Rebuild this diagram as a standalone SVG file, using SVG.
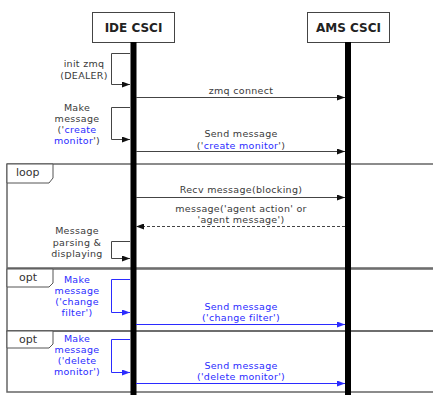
<svg xmlns="http://www.w3.org/2000/svg" width="433" height="395" viewBox="0 0 433 395">
  <style>
    text { font-family: "DejaVu Sans", "Noto Sans", sans-serif; font-size: 9.5px; letter-spacing: 0.3px; fill: #3a3a3a; }
    .hdr { font-size: 12px; font-weight: bold; letter-spacing: 0; fill: #222; text-anchor: middle; }
    .tabtxt { font-size: 11px; letter-spacing: 0; fill: #333; }
    .lbl { text-anchor: middle; }
    .blue { fill: #2b2bff; }
    .head { fill: #fff; stroke: #444; stroke-width: 1; }
    .life { stroke: #000; stroke-width: 6; }
    .frame { fill: none; stroke: #666; stroke-width: 1.5; }
    .tab { fill: #fff; stroke: #555; stroke-width: 1; }
    .msg { fill: none; stroke: #444; stroke-width: 1; }
    .msgb { fill: none; stroke: #2b2bff; stroke-width: 1; }
    .dash { stroke-dasharray: 3 2; }
  </style>
  <defs>
    <marker id="arr" viewBox="0 0 8 6" refX="8" refY="3" markerWidth="8" markerHeight="6" markerUnits="userSpaceOnUse" orient="auto">
      <path d="M0,0 L8,3 L0,6 Z" fill="#111"/>
    </marker>
    <marker id="arrb" viewBox="0 0 8 6" refX="8" refY="3" markerWidth="8" markerHeight="6" markerUnits="userSpaceOnUse" orient="auto">
      <path d="M0,0 L8,3 L0,6 Z" fill="#2b2bff"/>
    </marker>
  </defs>

  <rect width="433" height="395" fill="#fff"/>

  <!-- combined fragments -->
  <g id="frame-loop">
    <path class="frame" d="M433,164 H7 V268 H433"/>
    <path class="tab" d="M7,164 H53 V178 L49,183 H7 Z"/>
    <text class="tabtxt" x="16" y="176">loop</text>
  </g>
  <g id="frame-opt-1">
    <path class="frame" d="M433,269 H7 V331 H433"/>
    <path class="tab" d="M7,269 H53 V283 L49,287 H7 Z"/>
    <text class="tabtxt" x="19" y="281">opt</text>
  </g>
  <g id="frame-opt-2">
    <path class="frame" d="M433,331 H7 V392 H433"/>
    <path class="tab" d="M7,331 H53 V344 L49,348 H7 Z"/>
    <text class="tabtxt" x="19" y="343">opt</text>
  </g>

  <!-- lifelines -->
  <g id="ide-csci">
    <rect class="head" x="92.5" y="12.5" width="82" height="30"/>
    <text class="hdr" x="133.5" y="32">IDE CSCI</text>
    <line class="life" x1="133.5" y1="42" x2="133.5" y2="395"/>
  </g>
  <g id="ams-csci">
    <rect class="head" x="307.5" y="12.5" width="82" height="30"/>
    <text class="hdr" x="348.5" y="32">AMS CSCI</text>
    <line class="life" x1="348" y1="42" x2="348" y2="395"/>
  </g>

  <!-- messages -->
  <g id="connectors">
    <!-- init zmq self call -->
    <path class="msg" d="M130,53.5 H111.5 V84.5 H130" marker-end="url(#arr)"/>
    <text class="lbl" x="84" y="67">init zmq</text>
    <text class="lbl" x="84" y="79">(DEALER)</text>

    <line class="msg" x1="136" y1="97.5" x2="345" y2="97.5" marker-end="url(#arr)"/>
    <text class="lbl" x="241" y="94">zmq connect</text>

    <!-- make message self call -->
    <path class="msg" d="M130,107.5 H111.5 V139.5 H130" marker-end="url(#arr)"/>
    <text class="lbl" x="77" y="111">Make</text>
    <text class="lbl" x="77" y="122">message</text>
    <text class="lbl" x="77" y="133"><tspan>('</tspan><tspan class="blue">create</tspan></text>
    <text class="lbl" x="77" y="144"><tspan class="blue">monitor</tspan><tspan>')</tspan></text>

    <line class="msg" x1="136" y1="151.5" x2="345" y2="151.5" marker-end="url(#arr)"/>
    <text class="lbl" x="241" y="137">Send message</text>
    <text class="lbl" x="241" y="149"><tspan>('</tspan><tspan class="blue">create monitor</tspan><tspan>')</tspan></text>

    <!-- loop body -->
    <line class="msg" x1="136" y1="197.5" x2="345" y2="197.5" marker-end="url(#arr)"/>
    <text class="lbl" x="241" y="193">Recv message(blocking)</text>

    <line class="msg dash" x1="345" y1="226.5" x2="136" y2="226.5" marker-end="url(#arr)"/>
    <text class="lbl" x="241" y="212">message('agent action' or</text>
    <text class="lbl" x="241" y="223">'agent message')</text>

    <path class="msg" d="M130,241.5 H111.5 V258.5 H130" marker-end="url(#arr)"/>
    <text class="lbl" x="77" y="234">Message</text>
    <text class="lbl" x="77" y="246">parsing &amp;</text>
    <text class="lbl" x="77" y="257">displaying</text>

    <!-- opt: change filter -->
    <path class="msgb" d="M130,279.5 H111.5 V312.5 H130" marker-end="url(#arrb)"/>
    <text class="lbl blue" x="77" y="283">Make</text>
    <text class="lbl blue" x="77" y="294">message</text>
    <text class="lbl blue" x="77" y="305">('change</text>
    <text class="lbl blue" x="77" y="316">filter')</text>

    <line class="msgb" x1="136" y1="324.5" x2="345" y2="324.5" marker-end="url(#arrb)"/>
    <text class="lbl blue" x="241" y="310">Send message</text>
    <text class="lbl blue" x="241" y="321">('change filter')</text>

    <!-- opt: delete monitor -->
    <path class="msgb" d="M130,339.5 H111.5 V372.5 H130" marker-end="url(#arrb)"/>
    <text class="lbl blue" x="77" y="342">Make</text>
    <text class="lbl blue" x="77" y="353">message</text>
    <text class="lbl blue" x="77" y="364">('delete</text>
    <text class="lbl blue" x="77" y="375">monitor')</text>

    <line class="msgb" x1="136" y1="383.5" x2="345" y2="383.5" marker-end="url(#arrb)"/>
    <text class="lbl blue" x="241" y="369">Send message</text>
    <text class="lbl blue" x="241" y="380">('delete monitor')</text>
  </g>
</svg>
